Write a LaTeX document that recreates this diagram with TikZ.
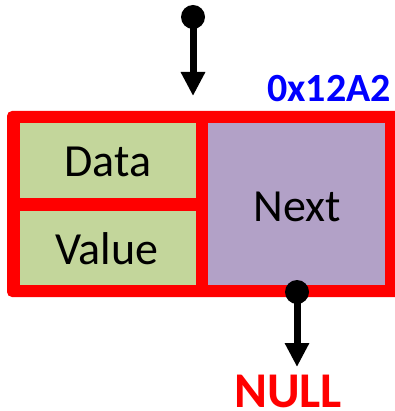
\documentclass[tikz,border=0pt]{standalone}
\usepackage{fontspec}
\setmainfont{Carlito}
\usetikzlibrary{arrows.meta}
\definecolor{cellgreen}{HTML}{C3D69B}
\definecolor{cellpurple}{HTML}{B2A1C7}
\definecolor{framered}{HTML}{FF0000}
\definecolor{addrblue}{HTML}{0000FF}
\tikzset{
  cell/.style={inner sep=0pt, outer sep=0pt, anchor=north west},
  celltext/.style={font=\fontsize{46}{46}\selectfont, text=black, inner sep=1pt},
  pointer/.style={line width=7pt, -{Triangle[width=23pt,length=24pt]}},
  dot/.style={circle, fill=black, inner sep=0pt, minimum size=24pt},
}
\begin{document}
\begin{tikzpicture}[x=1pt,y=-1pt]
\useasboundingbox (0,0) rectangle (394,411);
% node frame
\fill[framered, rounded corners=5pt] (7,111) rectangle (402,297);
% cells
\node[cell, fill=cellgreen, minimum width=176pt, minimum height=75pt] (data) at (20,123) {};
\node[cell, fill=cellgreen, minimum width=176pt, minimum height=74pt] (value) at (20,211) {};
\node[cell, fill=cellpurple, minimum width=177pt, minimum height=162pt] (next) at (208,123) {};
\node[celltext] at (108,162) {Data};
\node[celltext] at (107,249) {Value};
\node[celltext] at (297,207) {Next};
% address label
\node[font=\bfseries\fontsize{40}{40}\selectfont, text=addrblue, inner sep=1pt, anchor=base east] (addr) at (392,102) {0x12A2};
% head pointer
\node[dot] (hd) at (193,17) {};
\coordinate (htip) at (193,96);
\draw[pointer] (hd.center) -- (htip);
% next pointer
\node[dot] (nd) at (297,292) {};
\node[font=\bfseries\fontsize{50}{50}\selectfont, text=framered, inner sep=1pt, anchor=base] (null) at (288,407) {NULL};
\coordinate (ntip) at (297,367);
\draw[pointer] (nd.center) -- (ntip);
\end{tikzpicture}
\end{document}
